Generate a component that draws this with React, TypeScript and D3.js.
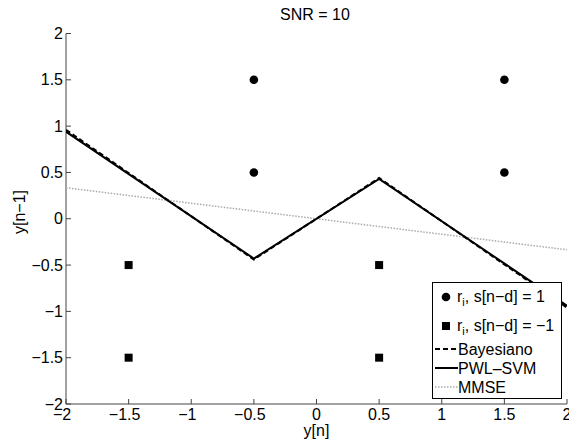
import { useEffect, useRef } from 'react';
import * as d3 from 'd3';

// data
const circlePoints: [number, number][] = [
  [-0.5, 1.5],
  [1.5, 1.5],
  [-0.5, 0.5],
  [1.5, 0.5],
];
const squarePoints: [number, number][] = [
  [-1.5, -0.5],
  [0.5, -0.5],
  [-1.5, -1.5],
  [0.5, -1.5],
];
const bayesiano: [number, number][] = [
  [-2, 0.96],
  [-0.5, -0.44],
  [0.5, 0.44],
  [2, -0.96],
];
const pwlSvm: [number, number][] = [
  [-2, 0.94],
  [-0.5, -0.43],
  [0.5, 0.43],
  [2, -0.94],
];
const mmse: [number, number][] = [
  [-2, 0.335],
  [2, -0.335],
];
const xTicks = [-2, -1.5, -1, -0.5, 0, 0.5, 1, 1.5, 2];
const yTicks = [-2, -1.5, -1, -0.5, 0, 0.5, 1, 1.5, 2];

const W = 569;
const H = 445;
const FONT = 'Liberation Sans, Arial, sans-serif';
const FS = 16;

const fmt = (v: number) => (v < 0 ? '\u2212' + Math.abs(v) : String(v));

const App = () => {
  const ref = useRef<SVGSVGElement>(null);

  useEffect(() => {
    const svg = d3.select(ref.current);
    svg.selectAll('*').remove();

    const x = d3.scaleLinear().domain([-2, 2]).range([66, 567]);
    const y = d3.scaleLinear().domain([-2, 2]).range([404, 33.5]);

    svg
      .append('defs')
      .append('clipPath')
      .attr('id', 'plot-clip')
      .append('rect')
      .attr('x', 66)
      .attr('y', 33.5)
      .attr('width', 501)
      .attr('height', 370.5);

    const axisColor = '#444';

    // x axis
    svg
      .append('line')
      .attr('x1', x(-2))
      .attr('x2', x(2))
      .attr('y1', y(-2))
      .attr('y2', y(-2))
      .attr('stroke', axisColor);
    xTicks.forEach((t) => {
      svg
        .append('line')
        .attr('x1', x(t))
        .attr('x2', x(t))
        .attr('y1', y(-2))
        .attr('y2', y(-2) - 5)
        .attr('stroke', axisColor);
      svg
        .append('text')
        .attr('x', x(t) - (t < 0 ? 4 : 0))
        .attr('y', 420)
        .attr('text-anchor', 'middle')
        .attr('font-family', FONT)
        .attr('font-size', FS)
        .text(fmt(t));
    });

    // y axis
    svg
      .append('line')
      .attr('x1', x(-2))
      .attr('x2', x(-2))
      .attr('y1', y(-2))
      .attr('y2', y(2))
      .attr('stroke', axisColor);
    yTicks.forEach((t) => {
      svg
        .append('line')
        .attr('x1', x(-2))
        .attr('x2', x(-2) + 5)
        .attr('y1', y(t))
        .attr('y2', y(t))
        .attr('stroke', axisColor);
      svg
        .append('text')
        .attr('x', 63)
        .attr('y', y(t) + 5.5)
        .attr('text-anchor', 'end')
        .attr('font-family', FONT)
        .attr('font-size', FS)
        .text(fmt(t));
    });

    // labels
    svg
      .append('text')
      .attr('x', x(0))
      .attr('y', 436)
      .attr('text-anchor', 'middle')
      .attr('font-family', FONT)
      .attr('font-size', FS)
      .text('y[n]');
    svg
      .append('text')
      .attr('transform', `translate(25,212) rotate(-90)`)
      .attr('text-anchor', 'middle')
      .attr('font-family', FONT)
      .attr('font-size', FS)
      .text('y[n\u22121]');
    svg
      .append('text')
      .attr('x', 315)
      .attr('y', 20)
      .attr('text-anchor', 'middle')
      .attr('font-family', FONT)
      .attr('font-size', FS)
      .text('SNR = 10');

    const line = d3
      .line<[number, number]>()
      .x((d) => x(d[0]))
      .y((d) => y(d[1]));

    const plot = svg.append('g').attr('clip-path', 'url(#plot-clip)');

    plot
      .append('path')
      .datum(mmse)
      .attr('d', line)
      .attr('fill', 'none')
      .attr('stroke', '#aaa')
      .attr('stroke-width', 1.5)
      .attr('stroke-dasharray', '1.5,1.5');
    plot
      .append('path')
      .datum(bayesiano)
      .attr('d', line)
      .attr('fill', 'none')
      .attr('stroke', '#000')
      .attr('stroke-width', 2)
      .attr('stroke-dasharray', '5,3');
    plot
      .append('path')
      .datum(pwlSvm)
      .attr('d', line)
      .attr('fill', 'none')
      .attr('stroke', '#000')
      .attr('stroke-width', 2);

    plot
      .selectAll('circle.pt')
      .data(circlePoints)
      .enter()
      .append('circle')
      .attr('cx', (d) => x(d[0]))
      .attr('cy', (d) => y(d[1]))
      .attr('r', 4.3)
      .attr('fill', '#000');
    plot
      .selectAll('rect.pt')
      .data(squarePoints)
      .enter()
      .append('rect')
      .attr('x', (d) => x(d[0]) - 4)
      .attr('y', (d) => y(d[1]) - 4)
      .attr('width', 8)
      .attr('height', 8)
      .attr('fill', '#000');

    // legend
    const lg = svg.append('g');
    lg.append('rect')
      .attr('x', 432.5)
      .attr('y', 282.5)
      .attr('width', 129)
      .attr('height', 116)
      .attr('fill', '#fff')
      .attr('stroke', '#000');

    const markerText = (yy: number, val: string) => {
      const t = lg
        .append('text')
        .attr('x', 457)
        .attr('y', yy + 5.5)
        .attr('font-family', FONT)
        .attr('font-size', FS);
      t.append('tspan').text('r');
      t.append('tspan').attr('dy', 4).attr('font-size', 11).text('i');
      t.append('tspan').attr('dy', -4).text(`, s[n\u2212d] = ${val}`);
    };

    lg.append('circle').attr('cx', 446).attr('cy', 297).attr('r', 4.3).attr('fill', '#000');
    markerText(296, '1');
    lg.append('rect').attr('x', 442).attr('y', 322).attr('width', 8).attr('height', 8).attr('fill', '#000');
    markerText(325, '\u22121');

    const lineEntries = [
      { label: 'Bayesiano', y: 349, color: '#000', width: 2, dash: '5,3' },
      { label: 'PWL\u2013SVM', y: 368, color: '#000', width: 2, dash: null },
      { label: 'MMSE', y: 387, color: '#aaa', width: 1.5, dash: '1.5,1.5' },
    ];
    lineEntries.forEach((e) => {
      lg.append('line')
        .attr('x1', 435)
        .attr('x2', 458)
        .attr('y1', e.y)
        .attr('y2', e.y)
        .attr('stroke', e.color)
        .attr('stroke-width', e.width)
        .attr('stroke-dasharray', e.dash);
      lg.append('text')
        .attr('x', 458)
        .attr('y', e.y + 5.5)
        .attr('font-family', FONT)
        .attr('font-size', FS)
        .text(e.label);
    });
  }, []);

  return (
    <svg
      ref={ref}
      width={W}
      height={H}
      style={{ position: 'absolute', left: 0, top: 0, background: '#fff' }}
    />
  );
};

export default App;
